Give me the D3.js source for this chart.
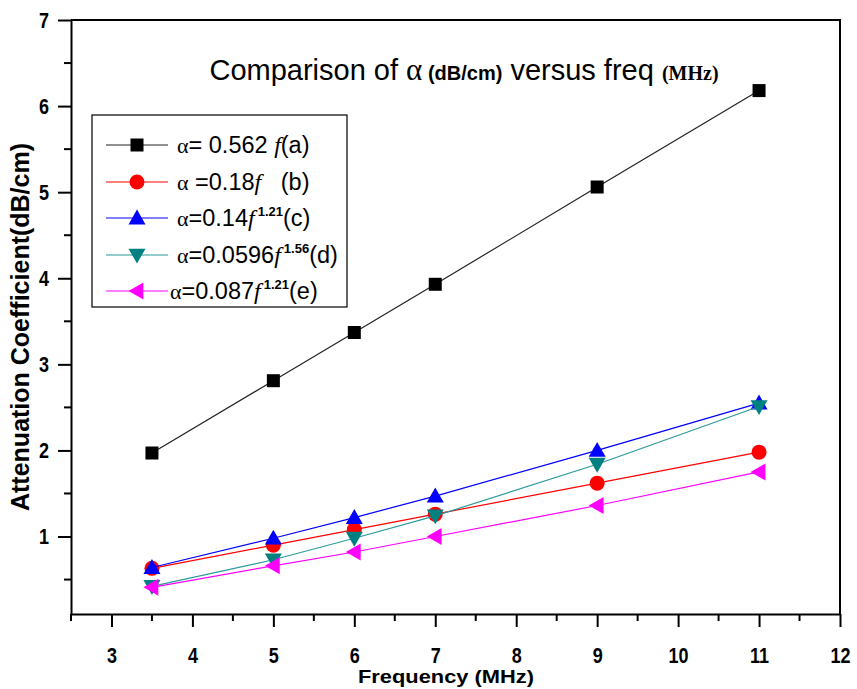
<!DOCTYPE html>
<html>
<head>
<meta charset="utf-8">
<script src="https://cdn.jsdelivr.net/npm/d3@7/dist/d3.min.js"></script>
<style>
  html, body { margin: 0; padding: 0; background: #fff; }
  svg { display: block; }
  text { font-family: "Liberation Sans", Arial, sans-serif; }
</style>
</head>
<body>
<svg id="chart" width="857" height="689"></svg>
<script>
// ---------- data ----------
const frequencies = [3.5, 5, 6, 7, 9, 11];
const seriesA = [1.97, 2.81, 3.37, 3.93, 5.06, 6.18];   // α = 0.562 f (a)
const seriesB = [0.63, 0.90, 1.08, 1.26, 1.62, 1.98];   // α = 0.18 f (b)
const seriesC = [0.64, 0.98, 1.22, 1.47, 2.00, 2.55];   // α = 0.14 f^1.21 (c)
const seriesD = [0.42, 0.73, 0.98, 1.24, 1.84, 2.51];   // α = 0.0596 f^1.56 (d)
const seriesE = [0.41, 0.66, 0.82, 1.00, 1.36, 1.75];   // α = 0.087 f^1.21 (e)
const xTicks = [3, 4, 5, 6, 7, 8, 9, 10, 11, 12];
const yTicks = [1, 2, 3, 4, 5, 6, 7];
const xDomain = [2.5, 12];
const yDomain = [0.1, 7];

const series = [
  { values: seriesA, color: "#000000", line: "#222222", symbol: "square",
    label: [{t:"α", serif:true}, {t:"= 0.562 "}, {t:"f", ital:true}, {t:"(a)"}] },
  { values: seriesB, color: "#ff0000", line: "#ff0000", symbol: "circle",
    label: [{t:"α", serif:true}, {t:" =0.18"}, {t:"f", ital:true}, {t:"\u00a0\u00a0\u00a0(b)"}] },
  { values: seriesC, color: "#0000ff", line: "#0000ff", symbol: "up",
    label: [{t:"α", serif:true}, {t:"=0.14"}, {t:"f", ital:true}, {t:"1.21", sup:true}, {t:"(c)"}] },
  { values: seriesD, color: "#008080", line: "#2a9a9a", symbol: "down",
    label: [{t:"α", serif:true}, {t:"=0.0596"}, {t:"f", ital:true}, {t:"1.56", sup:true}, {t:"(d)"}] },
  { values: seriesE, color: "#ff00ff", line: "#ff00ff", symbol: "left",
    label: [{t:"α", serif:true}, {t:"=0.087"}, {t:"f", ital:true}, {t:"1.21", sup:true}, {t:"(e)"}] }
];

// ---------- layout ----------
const svg = d3.select("#chart");
const plot = { left: 71, right: 840, top: 20, bottom: 614 };
const x = d3.scaleLinear().domain(xDomain).range([plot.left, plot.right]);
const y = d3.scaleLinear().domain(yDomain).range([plot.bottom, plot.top]);
const SERIF = "'Liberation Serif', 'Times New Roman', serif";

svg.append("rect").attr("width", 857).attr("height", 689).attr("fill", "#fff");

// frame (top & right lines)
svg.append("path")
  .attr("d", `M${plot.left},${plot.top}H${plot.right}V${plot.bottom}`)
  .attr("fill", "none").attr("stroke", "#000").attr("stroke-width", 2);

// x axis
const xMinor = d3.range(2.5, 12.01, 0.5).filter(v => !xTicks.includes(v));
const xAxis = d3.axisBottom(x).tickValues(xTicks).tickFormat(d3.format("d"))
  .tickSizeInner(13).tickSizeOuter(0);
const gx = svg.append("g").attr("transform", `translate(0,${plot.bottom})`).call(xAxis);
gx.selectAll(".tick line").attr("stroke-width", 2);
gx.select(".domain").attr("stroke-width", 2);
gx.selectAll("text").attr("font-size", 18).attr("font-weight", "bold").attr("fill", "#000")
  .attr("font-family", "'Liberation Sans', Arial, sans-serif")
  .attr("y", 0).attr("dy", 0).attr("transform", "translate(0,49) scale(1,1.25)");
gx.selectAll(".minor").data(xMinor).enter().append("line")
  .attr("x1", d => x(d)).attr("x2", d => x(d)).attr("y1", 0).attr("y2", 7)
  .attr("stroke", "#000").attr("stroke-width", 2);

// y axis
const yMinor = d3.range(0.5, 7, 0.5).filter(v => !yTicks.includes(v));
const yAxis = d3.axisLeft(y).tickValues(yTicks).tickFormat(d3.format("d"))
  .tickSizeInner(13).tickSizeOuter(0);
const gy = svg.append("g").attr("transform", `translate(${plot.left},0)`).call(yAxis);
gy.selectAll(".tick line").attr("stroke-width", 2);
gy.select(".domain").attr("stroke-width", 2);
gy.selectAll("text").attr("font-size", 18).attr("font-weight", "bold").attr("fill", "#000")
  .attr("font-family", "'Liberation Sans', Arial, sans-serif")
  .attr("x", 0).attr("dy", 0).attr("text-anchor", "end")
  .attr("transform", "translate(-22,7) scale(1,1.25)");
gy.selectAll(".minor").data(yMinor).enter().append("line")
  .attr("y1", d => y(d)).attr("y2", d => y(d)).attr("x1", 0).attr("x2", -7)
  .attr("stroke", "#000").attr("stroke-width", 2);

// axis titles
svg.append("text").attr("x", 446).attr("y", 683).attr("text-anchor", "middle")
  .attr("font-size", 18).attr("font-weight", "bold")
  .attr("textLength", 176).attr("lengthAdjust", "spacingAndGlyphs")
  .text("Frequency (MHz)");
svg.append("text").attr("transform", "translate(29,327) rotate(-90)").attr("text-anchor", "middle")
  .attr("font-size", 25).attr("font-weight", "bold").text("Attenuation Coefficient(dB/cm)");

// title
const title = svg.append("text").attr("x", 464).attr("y", 80).attr("text-anchor", "middle")
  .attr("font-size", 29);
title.append("tspan").text("Comparison of ");
title.append("tspan").attr("font-family", SERIF).attr("font-size", 31).text("α");
title.append("tspan").attr("font-size", 20).attr("font-weight", "bold").text(" (dB/cm)");
title.append("tspan").text(" versus freq ");
title.append("tspan").attr("font-size", 20).attr("font-weight", "bold")
  .attr("font-family", SERIF).text("(MHz)");

// symbols
function drawSymbol(g, type, cx, cy, color) {
  let el;
  if (type === "square") {
    el = g.append("rect").attr("x", cx - 6.5).attr("y", cy - 6.5).attr("width", 13).attr("height", 13);
  } else if (type === "circle") {
    el = g.append("circle").attr("cx", cx).attr("cy", cy).attr("r", 7.5);
  } else {
    let pts;
    const r = 8.5;
    if (type === "up") pts = [[cx, cy - r], [cx + r, cy + r * 0.75], [cx - r, cy + r * 0.75]];
    if (type === "down") pts = [[cx, cy + r], [cx + r, cy - r * 0.75], [cx - r, cy - r * 0.75]];
    if (type === "left") pts = [[cx - r, cy], [cx + r * 0.75, cy - r], [cx + r * 0.75, cy + r]];
    el = g.append("polygon").attr("points", pts.map(p => p.join(",")).join(" "));
  }
  el.attr("fill", color);
}

const line = d3.line().x(d => x(d[0])).y(d => y(d[1]));
series.forEach(s => {
  const g = svg.append("g");
  const pts = frequencies.map((f, i) => [f, s.values[i]]);
  g.append("path").attr("d", line(pts)).attr("fill", "none")
    .attr("stroke", s.line).attr("stroke-width", 1.2);
  pts.forEach(p => drawSymbol(g, s.symbol, x(p[0]), y(p[1]), s.color));
});

// legend
const lg = svg.append("g");
lg.append("rect").attr("x", 92).attr("y", 115).attr("width", 255).attr("height", 192)
  .attr("fill", "#fff").attr("stroke", "#000").attr("stroke-width", 1.2);
const rowY = [145, 182, 218, 255, 291];
series.forEach((s, i) => {
  const yy = rowY[i];
  lg.append("line").attr("x1", 106).attr("x2", 168).attr("y1", yy).attr("y2", yy)
    .attr("stroke", s.line).attr("stroke-width", 1.2);
  drawSymbol(lg, s.symbol, 137, yy, s.color);
  const t = lg.append("text").attr("x", i === 4 ? 170 : 177).attr("y", yy + 8).attr("font-size", 23.5);
  let afterSup = false;
  s.label.forEach(part => {
    const sp = t.append("tspan").text(part.t);
    if (part.serif) sp.attr("font-family", SERIF).attr("font-size", 22);
    if (part.ital) sp.attr("font-family", SERIF).attr("font-style", "italic").attr("font-size", 24);
    if (part.sup) { sp.attr("font-size", 13).attr("font-weight", "bold").attr("dy", -10).attr("dx", 3); }
    if (afterSup) sp.attr("dy", 10);
    afterSup = !!part.sup;
  });
});
</script>
</body>
</html>
